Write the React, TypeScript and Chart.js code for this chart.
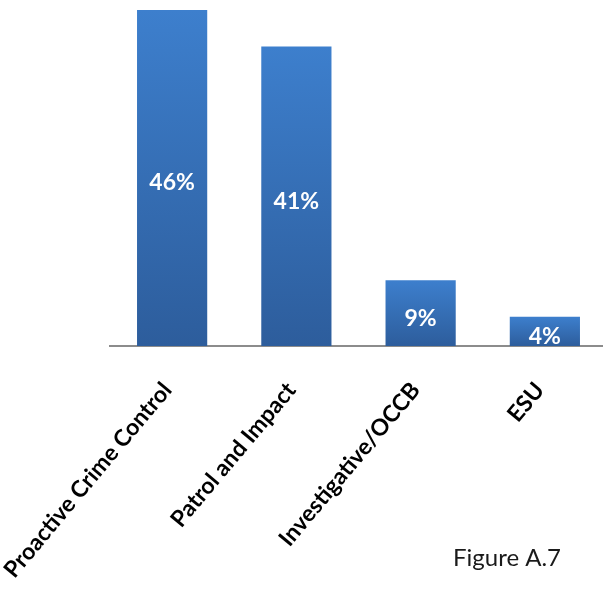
import React, { useEffect, useRef } from "react";
import { Chart, registerables } from "chart.js";

Chart.register(...registerables);

const categories = ["Proactive Crime Control", "Patrol and Impact", "Investigative/OCCB", "ESU"];
const shares = [46, 41, 9, 4];
const valueLabels = ["46%", "41%", "9%", "4%"];
const figureCaption = "Figure A.7";

const FONT = "Lato, 'Open Sans', sans-serif";

const barLabelPlugin = {
  id: "barLabels",
  afterDatasetsDraw(chart: any) {
    const ctx = chart.ctx;
    const meta = chart.getDatasetMeta(0);
    ctx.save();
    ctx.fillStyle = "#ffffff";
    ctx.font = `bold 23px ${FONT}`;
    ctx.textAlign = "center";
    ctx.textBaseline = "middle";
    meta.data.forEach((el: any, i: number) => {
      const cy = (el.y + el.base) / 2 + 5;
      ctx.fillText(valueLabels[i], el.x, cy);
    });
    ctx.restore();
  },
};

const captionPlugin = {
  id: "caption",
  afterDraw(chart: any) {
    const ctx = chart.ctx;
    ctx.save();
    ctx.fillStyle = "#1a1a1a";
    ctx.font = `24px ${FONT}`;
    ctx.textAlign = "left";
    ctx.textBaseline = "alphabetic";
    ctx.fillText(figureCaption, 453, 566);
    ctx.restore();
  },
};

export default function App() {
  const ref = useRef<HTMLCanvasElement | null>(null);
  useEffect(() => {
    if (!ref.current) return;
    const chart = new Chart(ref.current, {
      type: "bar",
      data: {
        labels: categories,
        datasets: [
          {
            data: shares,
            backgroundColor: (c: any) => {
              const chartObj = c.chart;
              const ys = chartObj.scales && chartObj.scales.y;
              if (!ys || !chartObj.chartArea || c.raw === undefined) return "#3571b8";
              const top = ys.getPixelForValue(c.raw);
              const base = ys.getPixelForValue(0);
              const g = chartObj.ctx.createLinearGradient(0, top, 0, base);
              g.addColorStop(0, "#3d7fcd");
              g.addColorStop(1, "#2d5d9c");
              return g;
            },
            borderWidth: 0,
            barPercentage: 0.565,
            categoryPercentage: 1,
          },
        ],
      },
      options: {
        animation: false,
        responsive: true,
        maintainAspectRatio: false,
        layout: { padding: { left: 110, right: 0, top: 10, bottom: 0 } },
        plugins: { legend: { display: false }, tooltip: { enabled: false }, title: { display: false } },
        scales: {
          x: {
            grid: { display: false, drawTicks: false },
            border: { display: true, color: "#8c8c8c", width: 2 },
            ticks: {
              minRotation: 50,
              maxRotation: 50,
              autoSkip: false,
              padding: 31,
              labelOffset: -5,
              color: "#000000",
              font: { family: FONT, weight: "bold", size: 23 },
            },
            afterFit: (scale: any) => {
              scale.paddingLeft = 0;
              scale.paddingRight = 0;
              scale.height = 246;
            },
          },
          y: {
            display: false,
            min: 0,
            max: 46,
          },
        },
      },
      plugins: [barLabelPlugin, captionPlugin],
    });
    return () => chart.destroy();
  }, []);
  return (
    <div style={{ position: "fixed", left: 0, top: 0, width: 603, height: 592, overflow: "hidden", background: "#fff" }}>
      <div style={{ position: "relative", width: 607, height: 592 }}>
        <canvas ref={ref} />
      </div>
    </div>
  );
}
